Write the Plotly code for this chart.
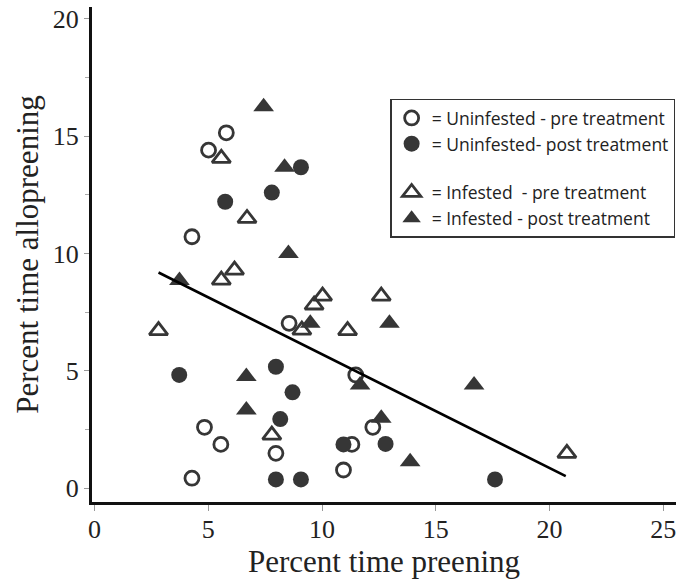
import plotly.graph_objects as go
import numpy as np

# ---- data ----
unf_pre_x = [5.79, 5.01, 4.28, 8.55, 11.48, 4.83, 5.55, 7.97, 4.28, 11.31, 10.94, 12.23]
unf_pre_y = [15.15, 14.41, 10.72, 7.03, 4.83, 2.60, 1.87, 1.49, 0.43, 1.87, 0.78, 2.60]

unf_post_x = [9.07, 7.79, 5.74, 3.72, 7.97, 8.70, 8.16, 7.97, 9.07, 10.94, 12.79, 17.60]
unf_post_y = [13.68, 12.60, 12.21, 4.83, 5.18, 4.09, 2.95, 0.38, 0.38, 1.87, 1.89, 0.38]

inf_pre_x = [5.57, 6.70, 5.57, 6.15, 2.81, 10.02, 9.65, 9.11, 11.12, 12.60, 7.79, 20.76]
inf_pre_y = [14.06, 11.50, 8.87, 9.30, 6.72, 8.19, 7.81, 6.74, 6.72, 8.19, 2.27, 1.49]

inf_post_x = [7.43, 8.35, 8.52, 3.73, 9.48, 6.67, 6.67, 11.67, 12.96, 12.60, 13.87, 16.68]
inf_post_y = [16.26, 13.68, 10.01, 8.85, 7.03, 4.76, 3.34, 4.40, 7.03, 2.98, 1.13, 4.40]

fit_intercept = 10.56
fit_slope = -0.485
fit_x = [2.81, 20.71]

x_ticks = [0, 5, 10, 15, 20, 25]
y_ticks = [0, 5, 10, 15, 20]

names = ["= Uninfested - pre treatment", "= Uninfested- post treatment",
         "= Infested  - pre treatment", "= Infested - post treatment"]

# ---- styling ----
DARK = "#363636"
SERIF = "Liberation Serif, Times New Roman, serif"
SANS = "Open Sans, sans-serif"

fig = go.Figure()

fig.add_trace(go.Scatter(
    x=unf_pre_x, y=unf_pre_y, mode="markers", name=names[0], legendgroup="u",
    marker=dict(symbol="circle-open", size=14, color=DARK, line=dict(width=2.8, color=DARK))))
fig.add_trace(go.Scatter(
    x=unf_post_x, y=unf_post_y, mode="markers", name=names[1], legendgroup="u",
    marker=dict(symbol="circle", size=16, color=DARK)))
fig.add_trace(go.Scatter(
    x=inf_pre_x, y=inf_pre_y, mode="markers", name=names[2], legendgroup="i",
    marker=dict(symbol="triangle-up-open", size=16, color=DARK, line=dict(width=2.8, color=DARK))))
fig.add_trace(go.Scatter(
    x=inf_post_x, y=inf_post_y, mode="markers", name=names[3], legendgroup="i",
    marker=dict(symbol="triangle-up", size=18, color=DARK)))

fit_y = [fit_intercept + fit_slope * v for v in fit_x]
fig.add_trace(go.Scatter(
    x=fit_x, y=fit_y, mode="lines", showlegend=False,
    line=dict(color="black", width=2.6)))

fig.update_layout(
    width=691, height=581,
    margin=dict(l=92, r=15, t=7, b=79, autoexpand=False),
    paper_bgcolor="white", plot_bgcolor="white",
    showlegend=True,
    legend=dict(
        x=0.5105, y=0.815, xanchor="left", yanchor="top",
        bgcolor="white", bordercolor="#333333", borderwidth=1.5,
        font=dict(family=SANS, size=17.5, color="#222222"),
        traceorder="grouped", tracegroupgap=23,
    ),
    xaxis=dict(
        range=[-0.114, 25.556], tickvals=x_ticks, ticktext=[str(v) for v in x_ticks],
        showgrid=False, zeroline=False, automargin=False,
        showline=True, linecolor="#111111", linewidth=3,
        ticks="outside", ticklen=6, tickwidth=1, tickcolor="#999999",
        ticklabelstandoff=-4,
        tickfont=dict(family=SERIF, size=26, color="#222222"),
        title=dict(text="Percent time preening", font=dict(family=SERIF, size=31, color="#222222"), standoff=6),
    ),
    yaxis=dict(
        range=[-0.584, 20.51], tickvals=y_ticks, ticktext=[str(v) for v in y_ticks],
        showgrid=False, zeroline=False, automargin=False,
        showline=True, linecolor="#111111", linewidth=3,
        ticks="outside", ticklen=5, tickwidth=1, tickcolor="#999999",
        minor=dict(dtick=2.5, ticks="outside", ticklen=4, tickcolor="#aaaaaa", tickwidth=1, showgrid=False),
        tickfont=dict(family=SERIF, size=26, color="#222222"),
        title=dict(text="Percent time allopreening", font=dict(family=SERIF, size=31, color="#222222"), standoff=5),
    ),
)

fig.write_html("out.html", config={"displayModeBar": False},
               post_script="document.body.style.margin='0';")
